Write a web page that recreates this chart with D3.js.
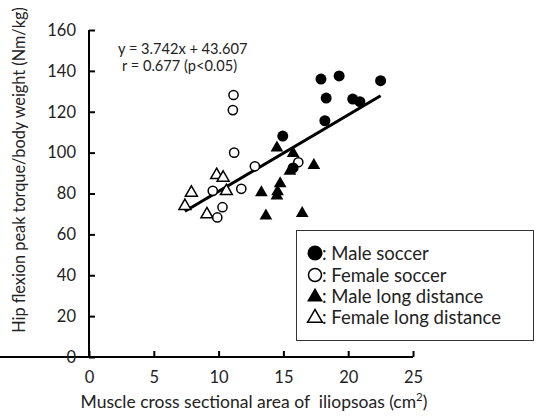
<!DOCTYPE html>
<html>
<head>
<meta charset="utf-8">
<script src="https://cdn.jsdelivr.net/npm/d3@7"></script>
<style>
  body { margin: 0; background: #fff; }
  text { font-family: Lato, "Open Sans", sans-serif; fill: #222; white-space: pre; }
</style>
</head>
<body>
<div id="chart"></div>
<script>
// data: [muscle CSA (cm2), peak torque / body weight (Nm/kg)]
const maleSoccer = [
  [17.9, 136.0], [19.3, 137.5], [22.5, 135.2], [18.3, 126.7], [20.35, 126.2],
  [20.9, 124.9], [18.2, 115.6], [14.95, 108.1], [15.75, 92.5]
];
const femaleSoccer = [
  [11.15, 128.2], [11.1, 120.8], [11.2, 100.0], [12.8, 93.3], [16.15, 95.3],
  [11.75, 82.3], [9.55, 81.3], [10.3, 73.3], [9.9, 68.3]
];
const maleLong = [
  [14.5, 102.4], [15.75, 99.6], [17.35, 93.8], [13.3, 80.4], [13.65, 69.1],
  [14.75, 84.8], [14.55, 80.9], [14.5, 78.8], [16.45, 70.3], [15.5, 91.0]
];
const femaleLong = [
  [7.4, 73.9], [7.9, 80.4], [9.1, 69.8], [9.85, 89.0], [10.35, 87.7], [10.6, 81.2]
];
const xTicks = [0, 5, 10, 15, 20, 25];
const yTicks = [0, 20, 40, 60, 80, 100, 120, 140, 160];
const slope = 3.742, intercept = 43.607;
const fitRange = [7.4, 22.5];
const legendLabels = ["Male soccer", "Female soccer", "Male long distance", "Female long distance"];

const width = 536, height = 418;
const svg = d3.select("#chart").append("svg")
    .attr("width", width)
    .attr("height", height);

// plot area
const x = d3.scaleLinear().domain([0, 25]).range([89, 413]);
const y = d3.scaleLinear().domain([0, 160]).range([357, 30]);

// axes with inward ticks
const xAxis = svg.append("g")
    .attr("transform", "translate(0," + y(0) + ")")
    .call(d3.axisBottom(x).tickValues(xTicks).tickSizeInner(-6).tickSizeOuter(0).tickPadding(14));
const yAxis = svg.append("g")
    .attr("transform", "translate(" + x(0) + ",0)")
    .call(d3.axisLeft(y).tickValues(yTicks).tickSizeInner(-6).tickSizeOuter(0).tickPadding(13));

[xAxis, yAxis].forEach(a => {
  a.select(".domain").attr("stroke", "#000").attr("stroke-width", 2);
  a.selectAll(".tick line").attr("stroke", "#000").attr("stroke-width", 2);
  a.selectAll(".tick text").style("font-size", "16.5px").attr("fill", "#333")
    .style("font-family", "Lato, sans-serif");
});
yAxis.select(".domain").attr("d", "M0," + y(160) + "V" + y(0));
xAxis.select(".domain").attr("d", "M0,0H" + x(25));

// regression line
svg.append("line")
    .attr("x1", x(fitRange[0])).attr("y1", y(slope * fitRange[0] + intercept))
    .attr("x2", x(fitRange[1])).attr("y2", y(slope * fitRange[1] + intercept))
    .attr("stroke", "#000")
    .attr("stroke-width", 3);

const tri = d3.symbol().type(d3.symbolTriangle);

// points
svg.selectAll(".fl").data(femaleLong).enter().append("path")
    .attr("d", tri.size(62))
    .attr("transform", d => "translate(" + x(d[0]) + "," + y(d[1]) + ")")
    .attr("fill", "#fff").attr("stroke", "#000").attr("stroke-width", 1.5);
svg.selectAll(".ml").data(maleLong).enter().append("path")
    .attr("d", tri.size(70))
    .attr("transform", d => "translate(" + x(d[0]) + "," + y(d[1]) + ")")
    .attr("fill", "#000");
svg.selectAll(".fs").data(femaleSoccer).enter().append("circle")
    .attr("cx", d => x(d[0])).attr("cy", d => y(d[1]))
    .attr("r", 4.6)
    .attr("fill", "#fff").attr("stroke", "#000").attr("stroke-width", 1.5);
svg.selectAll(".ms").data(maleSoccer).enter().append("circle")
    .attr("cx", d => x(d[0])).attr("cy", d => y(d[1]))
    .attr("r", 5.5)
    .attr("fill", "#000");

// equation
svg.append("text").attr("x", 118).attr("y", 54)
    .style("font-size", "14.6px").attr("fill", "#000")
    .text("y = " + slope + "x + " + intercept);
svg.append("text").attr("x", 122).attr("y", 71)
    .style("font-size", "14.6px").attr("fill", "#000")
    .text("r = 0.677 (p<0.05)");

// legend
const legend = svg.append("g");
legend.append("rect")
    .attr("x", 296.5).attr("y", 230.5)
    .attr("width", 237).attr("height", 110)
    .attr("fill", "#fff").attr("stroke", "#333").attr("stroke-width", 1);

const rowY = [253, 275, 296, 317];
legendLabels.forEach((lab, i) => {
  const cx = 315, cy = rowY[i];
  if (i === 0) legend.append("circle").attr("cx", cx).attr("cy", cy).attr("r", 7.5).attr("fill", "#000");
  if (i === 1) legend.append("circle").attr("cx", cx).attr("cy", cy).attr("r", 6.5)
      .attr("fill", "#fff").attr("stroke", "#000").attr("stroke-width", 1.5);
  if (i === 2) legend.append("path").attr("d", tri.size(110)())
      .attr("transform", "translate(" + cx + "," + (cy + 1) + ")").attr("fill", "#000");
  if (i === 3) legend.append("path").attr("d", tri.size(95)())
      .attr("transform", "translate(" + cx + "," + (cy + 1) + ")")
      .attr("fill", "#fff").attr("stroke", "#000").attr("stroke-width", 1.5);
  legend.append("text")
      .attr("x", 322).attr("y", cy + 6.5)
      .style("font-size", "18.5px").attr("fill", "#000")
      .text(": " + lab);
});

// axis titles
const xt = svg.append("text")
    .attr("x", 254).attr("y", 408)
    .attr("text-anchor", "middle")
    .style("font-size", "17.5px")
    .text("Muscle cross sectional area of  iliopsoas (cm");
xt.append("tspan").attr("dy", -7).style("font-size", "11.5px").text("2");
xt.append("tspan").attr("dy", 7).text(")");

svg.append("text")
    .attr("transform", "translate(25,170) rotate(-90)")
    .attr("text-anchor", "middle")
    .style("font-size", "16.3px")
    .text("Hip flexion peak torque/body weight (Nm/kg)");
</script>
</body>
</html>
